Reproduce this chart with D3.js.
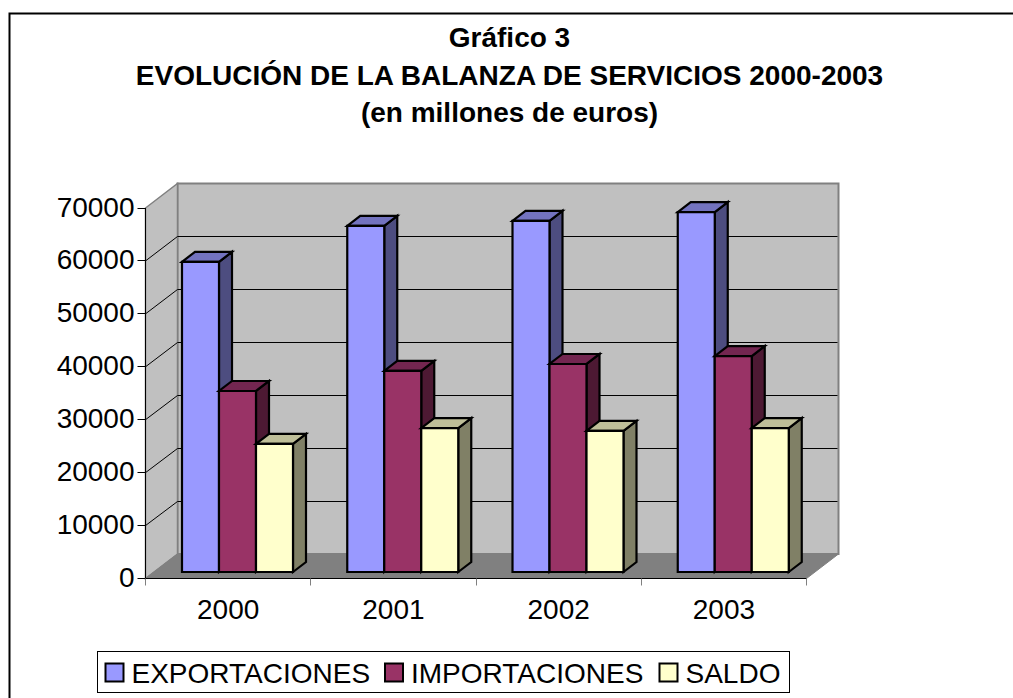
<!DOCTYPE html>
<html><head><meta charset="utf-8">
<script src="https://cdn.jsdelivr.net/npm/d3@7"></script>
<style>html,body{margin:0;padding:0;background:#fff}svg{display:block}text{font-family:"Liberation Sans",Arial,sans-serif;fill:#000}</style>
</head><body><svg id="c" width="1013" height="698"></svg>
<script>
const categories=["2000","2001","2002","2003"];
const seriesNames=["EXPORTACIONES","IMPORTACIONES","SALDO"];
const exportaciones=[58600,65400,66350,68000];
const importaciones=[34200,38000,39300,40800];
const saldo=[24200,27200,26650,27200];
const yTicks=[0,10000,20000,30000,40000,50000,60000,70000];
const titleLines=["Gráfico 3","EVOLUCIÓN DE LA BALANZA DE SERVICIOS 2000-2003","(en millones de euros)"];
const fills=["#9999FF","#993366","#FFFFCC"],tops=["#7373BF","#732650","#BFBF99"],sides=["#4D4D80","#4D1933","#808066"];
const series=[exportaciones,importaciones,saldo];

const svg=d3.select("#c");
const x0=145.5,x1=806.5,y0=578.5,yT=208,dx=32,dy=-24.5;
const x=d3.scaleBand().domain(categories).range([x0,x1]).paddingInner(0).paddingOuter(0);
const y=d3.scaleLinear().domain([0,70000]).range([y0,yT]);
const snap=v=>Math.round(v-0.5)+0.5;
const poly=(pts,fill,stroke,sw)=>svg.append("polygon").attr("points",pts.map(p=>p.join(",")).join(" ")).attr("fill",fill).attr("stroke",stroke||"none").attr("stroke-width",sw||1).attr("stroke-linejoin","miter");

// frame
svg.append("path").attr("d","M9.5,698V13.5H1013").attr("fill","none").attr("stroke","#000").attr("stroke-width",2);

// title
svg.append("g").selectAll("text").data(titleLines).join("text").attr("x",509.5).attr("y",(d,i)=>47+i*37.5).attr("text-anchor","middle").attr("font-size",28).attr("font-weight","bold").text(d=>d);

// walls
poly([[x0+dx,y0+dy],[x1+dx,y0+dy],[x1+dx,yT+dy],[x0+dx,yT+dy]],"#C0C0C0","#808080",2);
poly([[x0,y0],[x0+dx,y0+dy],[x0+dx,yT+dy],[x0,yT]],"#C0C0C0","#808080",1.5);
poly([[x0,y0],[x1,y0],[x1+dx,y0+dy],[x0+dx,y0+dy]],"#808080","#808080",1);

// gridlines
svg.append("g").selectAll("path").data(yTicks.slice(1,-1)).join("path")
 .attr("d",d=>`M${x0},${y(d)}L${x0+dx},${snap(y(d)+dy)}H${x1+dx-1}`).attr("fill","none").attr("stroke","#000").attr("stroke-width",1);

// axes
const yAxis=d3.axisLeft(y).tickValues(yTicks).tickSize(8).tickFormat(d3.format("d"));
const gy=svg.append("g").attr("transform",`translate(${x0},0)`).call(yAxis);
gy.selectAll("text").attr("font-size",28).attr("x",-11).attr("font-family",null);
gy.selectAll(".tick").attr("transform",d=>`translate(0,${snap(y(d))})`);
gy.select(".domain").attr("d",`M0,${yT}V${y0+1}`);
const xAxis=d3.axisBottom(x).tickSize(0);
const gx=svg.append("g").attr("transform",`translate(0,${y0})`).call(xAxis);
gx.selectAll("text").attr("font-size",28).attr("y",21).attr("dy","0.71em").attr("font-family",null);
gx.select(".domain").attr("d",`M${x0},0H${x1}`);
svg.append("g").selectAll("line").data(d3.range(categories.length+1)).join("line")
 .attr("x1",i=>snap(x0+i*x.step())).attr("x2",i=>snap(x0+i*x.step())).attr("y1",y0).attr("y2",y0+7).attr("stroke","#808080").attr("stroke-width",1);
svg.selectAll(".tick line").attr("stroke","#000");

// bars
const barW=37,bdx=13,bdy=-10,shiftX=36.5,base=-6.5;
const yb=v=>y(v)+base;
categories.forEach((c,ci)=>{
 series.forEach((s,si)=>{
  const l=x(c)+shiftX+si*barW,r=l+barW,t=yb(s[ci]),b=yb(0);
  const sw=2.2;
  poly([[r,b],[r+bdx,b+bdy],[r+bdx,t+bdy],[r,t]],sides[si],"#000",sw);
  poly([[l,t],[r,t],[r+bdx,t+bdy],[l+bdx,t+bdy]],tops[si],"#000",sw);
  poly([[l,t],[r,t],[r,b],[l,b]],fills[si],"#000",sw);
 });
});

// legend
svg.append("rect").attr("x",97.5).attr("y",651.5).attr("width",692).attr("height",41).attr("fill","#fff").attr("stroke","#000");
const legX=[105.5,385,659.5];
seriesNames.forEach((n,i)=>{
 svg.append("rect").attr("x",legX[i]).attr("y",663.5).attr("width",18).attr("height",18).attr("fill",fills[i]).attr("stroke","#000").attr("stroke-width",2);
 svg.append("text").attr("x",legX[i]+26).attr("y",683).attr("font-size",28).text(n);
});
</script></body></html>
